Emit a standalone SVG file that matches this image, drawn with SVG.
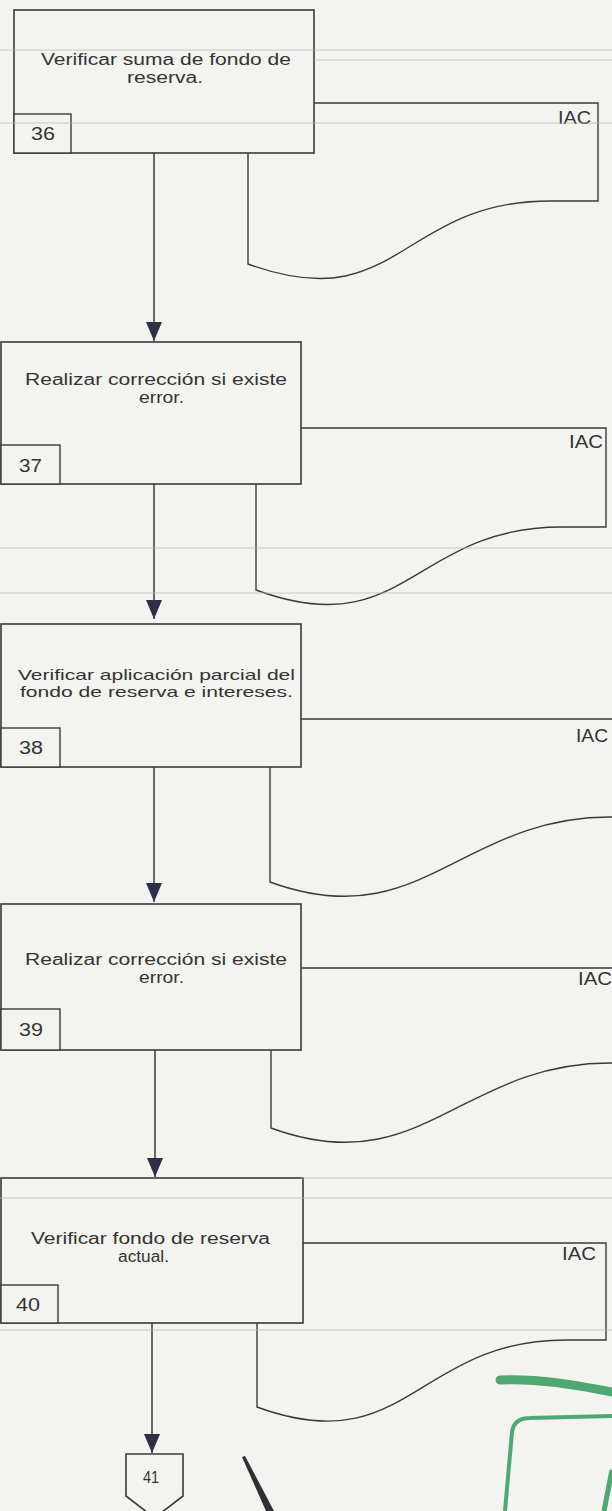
<svg xmlns="http://www.w3.org/2000/svg" width="612" height="1511" viewBox="0 0 612 1511">
<defs>
<style>
.bg{fill:#f3f3ef}
.box{fill:#f3f3ef;stroke:#3a3a3a;stroke-width:1.6}
.num{fill:#f3f3ef;stroke:#3a3a3a;stroke-width:1.4}
.doc{fill:#f3f3ef;stroke:#3a3a3a;stroke-width:1.4}
.conn{fill:none;stroke:#3a3a3a;stroke-width:1.5}
.t{font-family:"Liberation Sans",Arial,sans-serif;font-size:16px;fill:#333}
.n{font-size:18px}
.s{font-size:15px}
.scan{fill:none;stroke:#b8b8b4;stroke-width:1;opacity:0.7}
</style>
<marker id="ah" markerUnits="userSpaceOnUse" markerWidth="20" markerHeight="16" viewBox="0 0 20 16" refX="19" refY="8" orient="auto">
<path d="M0,0 L19,8 L0,16 Z" fill="#2e3048"/>
</marker>
</defs>
<rect class="bg" x="0" y="0" width="612" height="1511"/>

<g id="doc36">
<path class="doc" d="M248,103 L598,103 L598,201 L550,201 C400,201 398,319 248,264 Z"/>
<text class="t n" x="558" y="124" textLength="33" lengthAdjust="spacingAndGlyphs">IAC</text>
</g>
<g id="doc37">
<path class="doc" d="M256,428 L606,428 L606,527 L562,527 C412,527 406,645 256,590 Z"/>
<text class="t n" x="569" y="448" textLength="34" lengthAdjust="spacingAndGlyphs">IAC</text>
</g>
<g id="doc38">
<path class="doc" d="M270,719 L640,719 L640,817 L610,817 C460,817 420,937 270,882 Z"/>
<text class="t n" x="576" y="742" textLength="32" lengthAdjust="spacingAndGlyphs">IAC</text>
</g>
<g id="doc39">
<path class="doc" d="M271,968 L640,968 L640,1063 L610,1063 C460,1063 421,1183 271,1128 Z"/>
<text class="t n" x="578" y="985" textLength="34" lengthAdjust="spacingAndGlyphs">IAC</text>
</g>
<g id="doc40">
<path class="doc" d="M257,1243 L606,1243 L606,1340 L566,1340 C416,1340 407,1462 257,1407 Z"/>
<text class="t n" x="562" y="1260" textLength="34" lengthAdjust="spacingAndGlyphs">IAC</text>
</g>

<g id="box36">
<rect class="box" x="14" y="10" width="300" height="143"/>
<rect class="num" x="14" y="114" width="57" height="39"/>
<text class="t" x="41" y="65" textLength="250" lengthAdjust="spacingAndGlyphs">Verificar suma de fondo de</text>
<text class="t" x="127" y="83" textLength="76" lengthAdjust="spacingAndGlyphs">reserva.</text>
<text class="t n" x="31" y="140" textLength="24" lengthAdjust="spacingAndGlyphs">36</text>
</g>
<g id="box37">
<rect class="box" x="1" y="342" width="300" height="142"/>
<rect class="num" x="1" y="445" width="59" height="39"/>
<text class="t" x="25" y="385" textLength="262" lengthAdjust="spacingAndGlyphs">Realizar corrección si existe</text>
<text class="t" x="139" y="403" textLength="45" lengthAdjust="spacingAndGlyphs">error.</text>
<text class="t n" x="19" y="472" textLength="23" lengthAdjust="spacingAndGlyphs">37</text>
</g>
<g id="box38">
<rect class="box" x="1" y="624" width="300" height="143"/>
<rect class="num" x="1" y="728" width="59" height="39"/>
<text class="t s" x="18" y="680" textLength="277" lengthAdjust="spacingAndGlyphs">Verificar aplicación parcial del</text>
<text class="t s" x="20" y="697" textLength="273" lengthAdjust="spacingAndGlyphs">fondo de reserva e intereses.</text>
<text class="t n" x="19" y="754" textLength="24" lengthAdjust="spacingAndGlyphs">38</text>
</g>
<g id="box39">
<rect class="box" x="1" y="904" width="300" height="146"/>
<rect class="num" x="1" y="1009" width="59" height="41"/>
<text class="t" x="25" y="965" textLength="262" lengthAdjust="spacingAndGlyphs">Realizar corrección si existe</text>
<text class="t" x="139" y="983" textLength="45" lengthAdjust="spacingAndGlyphs">error.</text>
<text class="t n" x="19" y="1036" textLength="24" lengthAdjust="spacingAndGlyphs">39</text>
</g>
<g id="box40">
<rect class="box" x="1" y="1178" width="302" height="145"/>
<rect class="num" x="1" y="1285" width="57" height="38"/>
<text class="t" x="31" y="1244" textLength="239" lengthAdjust="spacingAndGlyphs">Verificar fondo de reserva</text>
<text class="t" x="118" y="1262" textLength="51" lengthAdjust="spacingAndGlyphs">actual.</text>
<text class="t n" x="16" y="1311" textLength="24" lengthAdjust="spacingAndGlyphs">40</text>
</g>
<g id="conn41">
<path class="box" d="M126,1454 L183,1454 L183,1496 L154.5,1518 L126,1496 Z"/>
<text class="t" x="143" y="1483" textLength="16" lengthAdjust="spacingAndGlyphs">41</text>
</g>

<g id="connectors">
<path class="conn" d="M154,153 L154,341" marker-end="url(#ah)"/>
<path class="conn" d="M154,484 L154,619" marker-end="url(#ah)"/>
<path class="conn" d="M154,767 L154,902" marker-end="url(#ah)"/>
<path class="conn" d="M155,1050 L155,1177" marker-end="url(#ah)"/>
<path class="conn" d="M152,1323 L152,1453" marker-end="url(#ah)"/>
</g>

<g id="scan-marks">
<path class="scan" d="M0,50 L612,50 M314,60 L612,60 M0,123 L612,123 M0,548 L612,548 M0,593 L612,593 M301,1178 L612,1178 M0,1198 L612,1198 M0,1330 L612,1330"/>
<path d="M242,1457 L245,1456 L274,1511 L266,1511 Z" fill="#2f2f35"/>
<path d="M500,1380 C540,1378 580,1386 612,1392" fill="none" stroke="#2f9a5e" stroke-width="9" stroke-linecap="round" opacity="0.85"/>
<path d="M505,1511 L512,1432 Q514,1418 530,1418 L612,1416" fill="none" stroke="#2f9a5e" stroke-width="4" opacity="0.85"/>
<path d="M612,1470 L604,1511" fill="none" stroke="#2f9a5e" stroke-width="5" opacity="0.85"/>
</g>
</svg>
